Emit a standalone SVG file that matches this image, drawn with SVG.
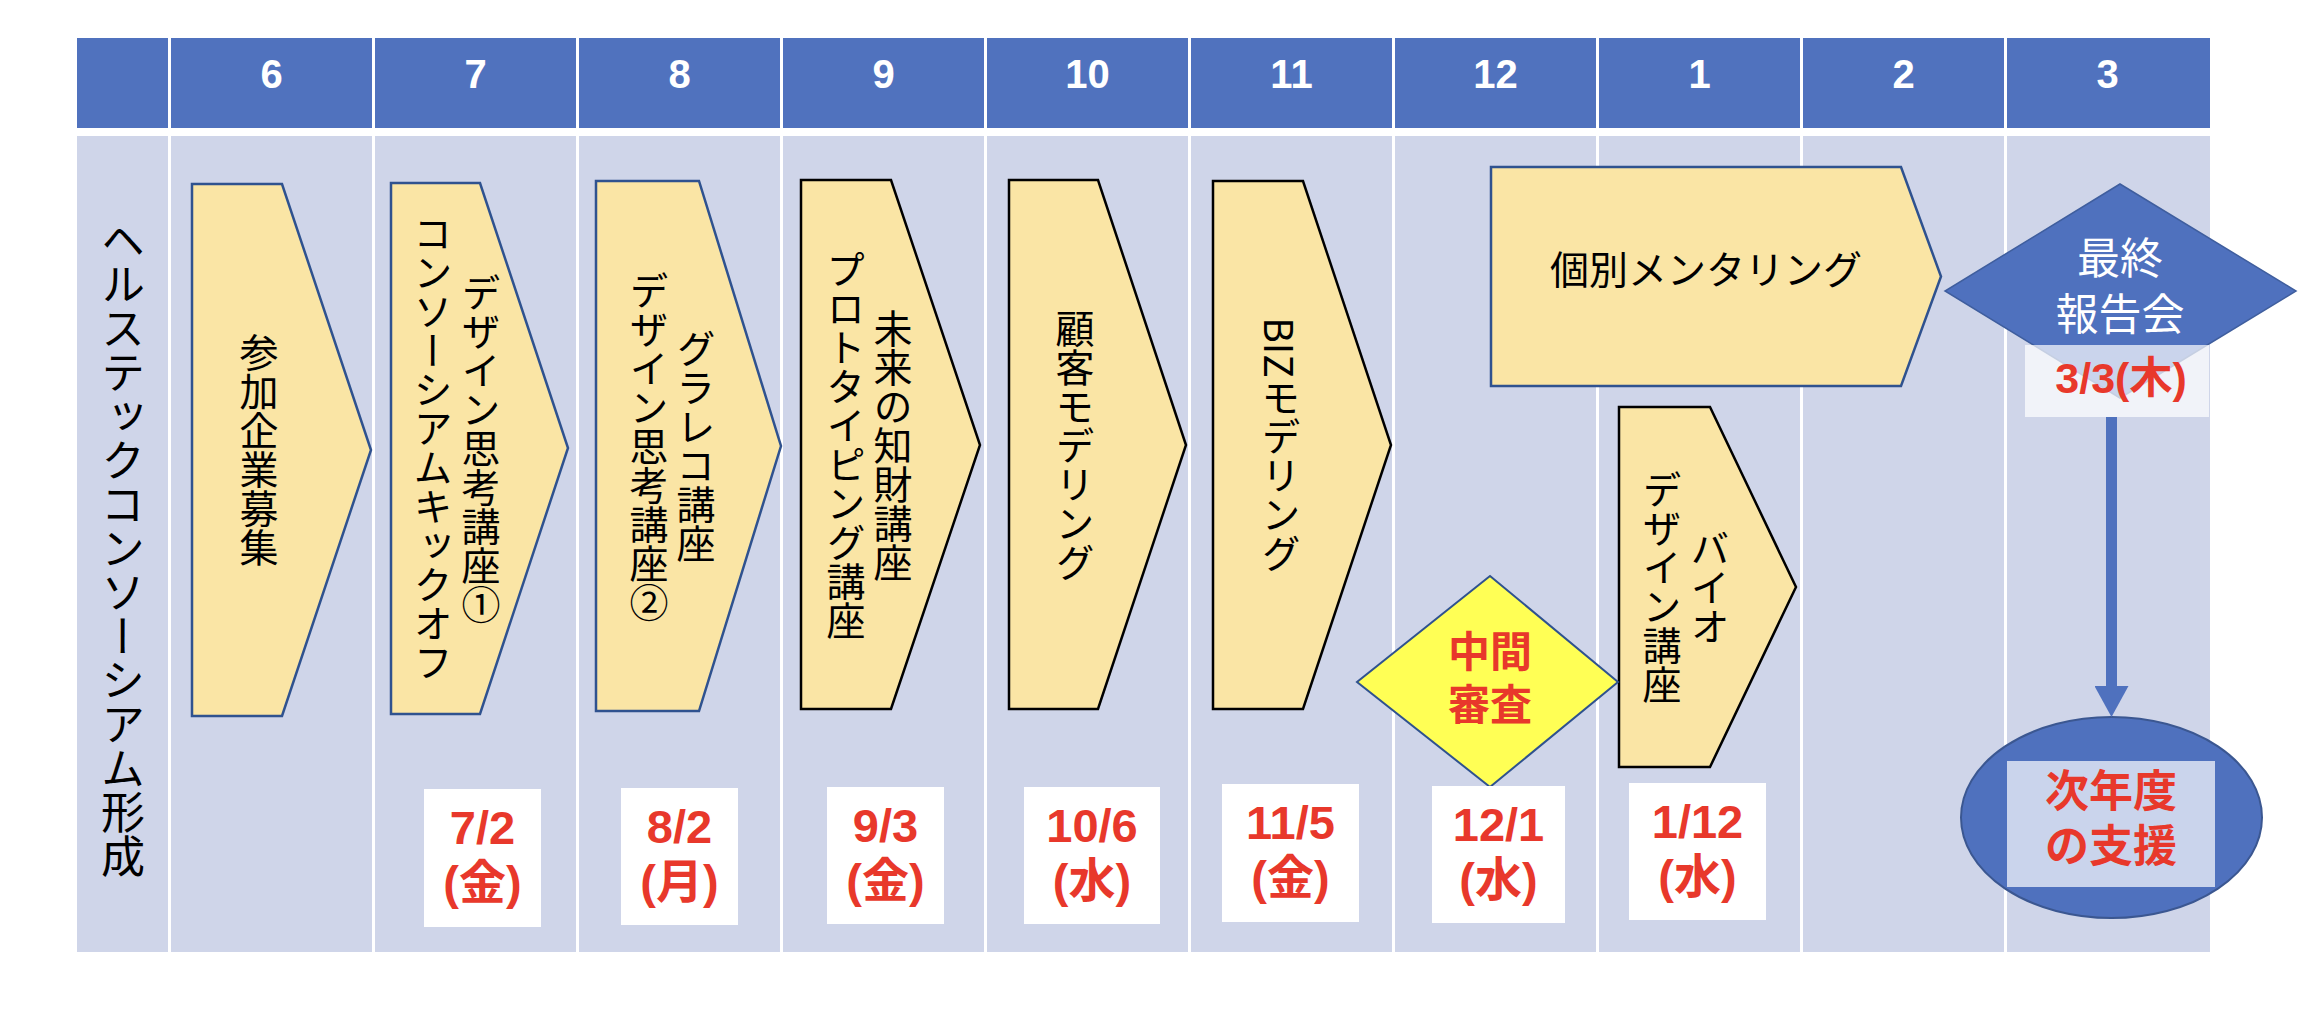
<svg xmlns="http://www.w3.org/2000/svg" width="2318" height="1024" viewBox="0 0 2318 1024">
<defs>
<style>
.hdr{fill:#5072BE}
.body{fill:#CFD5E9}
.sep{stroke:#FFFFFF;stroke-width:3}
.mon{font-family:"Liberation Sans",Arial,sans-serif;font-weight:bold;font-size:40px;fill:#FFFFFF;text-anchor:middle}
.chev{fill:#FAE5A5;stroke-width:2.5;stroke-linejoin:miter}
.cb{stroke:#2F528F}
.ck{stroke:#000000}
.v{writing-mode:vertical-rl;font-family:"Noto Sans CJK JP",sans-serif;font-size:39px;fill:#000000;text-anchor:middle}
.h{font-family:"Noto Sans CJK JP",sans-serif;font-size:39px;fill:#000000;text-anchor:middle}
.dbox{fill:#FFFFFF}
.date{font-family:"Liberation Sans","Noto Sans CJK JP",sans-serif;font-weight:bold;font-size:47px;fill:#E8382B;text-anchor:middle}
.red{font-family:"Noto Sans CJK JP",sans-serif;font-weight:bold;font-size:42px;fill:#E8382B;text-anchor:middle}
.wt{font-family:"Noto Sans CJK JP",sans-serif;font-size:43px;fill:#FFFFFF;text-anchor:middle}
.veil{fill:#FFFFFF;fill-opacity:0.7}
</style>
<marker id="ah" markerUnits="userSpaceOnUse" markerWidth="32" markerHeight="34" refX="0" refY="17" orient="auto" viewBox="0 0 32 34">
<path d="M0,0 L31,17 L0,34 Z" fill="#4F71BE"/>
</marker>
</defs>

<g id="table">
<rect class="hdr" x="77" y="38" width="2133" height="90"/>
<rect class="body" x="77" y="136" width="2133" height="816"/>
<g class="sep">
<line x1="169.5" y1="38" x2="169.5" y2="952"/>
<line x1="373.5" y1="38" x2="373.5" y2="952"/>
<line x1="577.5" y1="38" x2="577.5" y2="952"/>
<line x1="781.5" y1="38" x2="781.5" y2="952"/>
<line x1="985.5" y1="38" x2="985.5" y2="952"/>
<line x1="1189.5" y1="38" x2="1189.5" y2="952"/>
<line x1="1393.5" y1="38" x2="1393.5" y2="952"/>
<line x1="1597.5" y1="38" x2="1597.5" y2="952"/>
<line x1="1801.5" y1="38" x2="1801.5" y2="952"/>
<line x1="2005.5" y1="38" x2="2005.5" y2="952"/>
</g>
<text class="mon" x="271.5" y="88">6</text>
<text class="mon" x="475.5" y="88">7</text>
<text class="mon" x="679.5" y="88">8</text>
<text class="mon" x="883.5" y="88">9</text>
<text class="mon" x="1087.5" y="88">10</text>
<text class="mon" x="1291.5" y="88">11</text>
<text class="mon" x="1495.5" y="88">12</text>
<text class="mon" x="1699.5" y="88">1</text>
<text class="mon" x="1903.5" y="88">2</text>
<text class="mon" x="2107.5" y="88">3</text>
<text class="v" x="123" y="548" style="font-size:44px">ヘルステックコンソーシアム形成</text>
</g>

<g id="n-boshu">
<path class="chev cb" d="M192,184 H282 L371,450 L282,716 H192 Z"/>
<text class="v" x="259" y="450">参加企業募集</text>
</g>

<g id="n-kickoff">
<path class="chev cb" d="M391,183 H480 L568,448 L480,714 H391 Z"/>
<text class="v" x="481" y="448">デザイン思考講座①</text>
<text class="v" x="433" y="448">コンソーシアムキックオフ</text>
</g>

<g id="n-gurareko">
<path class="chev cb" d="M596,181 H699 L781,446 L699,711 H596 Z"/>
<text class="v" x="696" y="446">グラレコ講座</text>
<text class="v" x="649" y="446">デザイン思考講座②</text>
</g>

<g id="n-chizai">
<path class="chev ck" d="M801,180 H891 L980,445 L891,709 H801 Z"/>
<text class="v" x="893" y="445">未来の知財講座</text>
<text class="v" x="846" y="445">プロトタイピング講座</text>
</g>

<g id="n-kokyaku">
<path class="chev ck" d="M1009,180 H1098 L1186,445 L1098,709 H1009 Z"/>
<text class="v" x="1075" y="445">顧客モデリング</text>
</g>

<g id="n-biz">
<path class="chev ck" d="M1213,181 H1303 L1391,445 L1303,709 H1213 Z"/>
<text class="v" x="1281" y="445">BIZモデリング</text>
</g>

<g id="n-mentoring">
<path class="chev cb" d="M1491,167 H1901 L1941,276.5 L1901,386 H1491 Z"/>
<text class="h" x="1706" y="284">個別メンタリング</text>
</g>

<g id="n-bio">
<path class="chev ck" d="M1619,407 H1710 L1796,587 L1710,767 H1619 Z"/>
<text class="v" x="1710" y="587">バイオ</text>
<text class="v" x="1662" y="587">デザイン講座</text>
</g>

<g id="n-chukan">
<polygon points="1490,576 1618,682 1490,787 1357,682" fill="#FFFF55" stroke="#2F528F" stroke-width="2"/>
<text class="red" x="1490" y="667">中間</text>
<text class="red" x="1490" y="720">審査</text>
</g>

<g id="n-saishu">
<polygon points="2120,184 2296,291 2120,398 1945,291" fill="#4F71BE" stroke="#3F5E9E" stroke-width="1.5"/>
<text class="wt" x="2120" y="274">最終</text>
<text class="wt" x="2120" y="330">報告会</text>
<rect class="veil" x="2025" y="345" width="184" height="72"/>
<text class="date" x="2121" y="393" style="font-size:43px">3/3(木)</text>
</g>

<g id="n-jinendo">
<ellipse cx="2111.5" cy="817.5" rx="150.5" ry="100.5" fill="#4F71BE" stroke="#3B5791" stroke-width="2"/>
<rect class="veil" x="2007" y="761" width="208" height="126"/>
<text class="red" x="2111" y="807" style="font-size:44px">次年度</text>
<text class="red" x="2111" y="862" style="font-size:44px">の支援</text>
</g>

<g id="dates">
<rect class="dbox" x="424" y="789" width="117" height="138"/>
<text class="date" x="482.5" y="844">7/2</text>
<text class="date" x="482.5" y="899">(金)</text>
<rect class="dbox" x="621" y="788" width="117" height="137"/>
<text class="date" x="679.5" y="843">8/2</text>
<text class="date" x="679.5" y="898">(月)</text>
<rect class="dbox" x="827" y="787" width="117" height="137"/>
<text class="date" x="885.5" y="842">9/3</text>
<text class="date" x="885.5" y="897">(金)</text>
<rect class="dbox" x="1024" y="787" width="136" height="137"/>
<text class="date" x="1092" y="842">10/6</text>
<text class="date" x="1092" y="897">(水)</text>
<rect class="dbox" x="1222" y="784" width="137" height="138"/>
<text class="date" x="1290.5" y="839">11/5</text>
<text class="date" x="1290.5" y="894">(金)</text>
<rect class="dbox" x="1432" y="786" width="133" height="137"/>
<text class="date" x="1498.5" y="841">12/1</text>
<text class="date" x="1498.5" y="896">(水)</text>
<rect class="dbox" x="1629" y="783" width="137" height="137"/>
<text class="date" x="1697.5" y="838">1/12</text>
<text class="date" x="1697.5" y="893">(水)</text>
</g>

<g id="connectors">
<line x1="2111.5" y1="417" x2="2111.5" y2="686" stroke="#4F71BE" stroke-width="11" marker-end="url(#ah)"/>
</g>
</svg>
